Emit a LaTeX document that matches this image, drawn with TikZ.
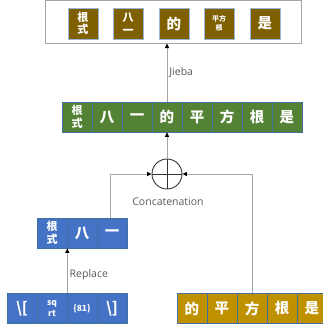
\documentclass[tikz,border=0pt]{standalone}
\usepackage{fontspec}
\setmainfont{Open Sans}
\newfontfamily\cjk{Noto Sans CJK SC}
\usetikzlibrary{arrows.meta}
\definecolor{cgreen}{HTML}{548235}
\definecolor{cblue}{HTML}{4472C4}
\definecolor{cgold}{HTML}{BF9000}
\definecolor{cbrown}{HTML}{7F6000}
\definecolor{cellline}{HTML}{41719C}
\definecolor{brownline}{HTML}{9DB3D6}
\definecolor{connline}{HTML}{A6A6A6}
\definecolor{labeltext}{HTML}{595959}
\begin{document}
\begin{tikzpicture}[x=1pt,y=-1pt,
  cell/.style={draw=cellline, line width=0.6pt, minimum width=30pt, minimum height=30pt,
    inner sep=0pt, text=white, align=center, font=\cjk\bfseries\fontsize{14.5}{14}\selectfont},
  twoline/.style={font=\cjk\bfseries\fontsize{11}{12.5}\selectfont},
  tiny/.style={font=\cjk\bfseries\fontsize{7}{9}\selectfont},
  latexbig/.style={font=\cjk\bfseries\fontsize{15}{14}\selectfont},
  latexsmall/.style={font=\cjk\bfseries\fontsize{8.5}{11}\selectfont},
  bcell/.style={draw=brownline, line width=0.6pt, fill=cbrown, minimum width=30pt, minimum height=31pt,
    inner sep=0pt, text=white, align=center, font=\cjk\bfseries\fontsize{14.5}{14}\selectfont},
  conn/.style={draw=connline, line width=0.8pt, -{Triangle[length=4.5pt,width=4pt,color=black]}},
  lbl/.style={text=labeltext, font=\fontsize{10.5}{12}\selectfont, inner sep=2pt}
]
\useasboundingbox (0,0) rectangle (323,333);

% top box
\node[draw=connline, line width=1pt, minimum width=256pt, minimum height=42.5pt, inner sep=0pt] (top) at (173.5,21.75) {};
\node[bcell, twoline] (t1) at (83,23.5) {根\\式};
\node[bcell, twoline] (t2) at (128,23.5) {八\\一};
\node[bcell] (t3) at (174,23.5) {的};
\node[bcell, tiny] (t4) at (219,23.5) {平方\\根};
\node[bcell] (t5) at (265,23.5) {是};

% green row
\node[cell, fill=cgreen, twoline] (g1) at (77,117) {根\\式};
\node[cell, fill=cgreen] (g2) at (107,117) {八};
\node[cell, fill=cgreen] (g3) at (137,117) {一};
\node[cell, fill=cgreen] (g4) at (167,117) {的};
\node[cell, fill=cgreen] (g5) at (197,117) {平};
\node[cell, fill=cgreen] (g6) at (227,117) {方};
\node[cell, fill=cgreen] (g7) at (257,117) {根};
\node[cell, fill=cgreen] (g8) at (287,117) {是};

% concatenation circle
\node[circle, draw=black!80, line width=0.9pt, minimum size=30pt, inner sep=0pt] (cat) at (167,174) {};
\draw[black!80, line width=0.9pt] (cat.north) -- (cat.south);
\draw[black!80, line width=0.9pt] (cat.west) -- (cat.east);
\node[lbl] (catlbl) at (168,202) {Concatenation};

% middle blue row
\node[cell, fill=cblue, twoline] (bm1) at (52,233) {根\\式};
\node[cell, fill=cblue] (bm2) at (82,233) {八};
\node[cell, fill=cblue] (bm3) at (112,233) {一};

% bottom blue row
\node[cell, fill=cblue, latexbig] (bb1) at (22,308.5) {\textbackslash[};
\node[cell, fill=cblue, latexsmall] (bb2) at (52,308.5) {sq\\rt};
\node[cell, fill=cblue, latexsmall] (bb3) at (82,308.5) {\{81\}};
\node[cell, fill=cblue, latexbig] (bb4) at (112,308.5) {\textbackslash]};

% gold row
\node[cell, fill=cgold] (y1) at (192,308.5) {的};
\node[cell, fill=cgold] (y2) at (222,308.5) {平};
\node[cell, fill=cgold] (y3) at (252,308.5) {方};
\node[cell, fill=cgold] (y4) at (282,308.5) {根};
\node[cell, fill=cgold] (y5) at (312,308.5) {是};

% connectors
\draw[conn] (bb2.north east) -- node[lbl, right, pos=0.4] {Replace} (bm1.south east);
\draw[conn] ([xshift=-2pt]bm3.north) |- (cat.west);
\draw[conn] (y3.north) |- (cat.east);
\draw[conn] (cat.north) -- (g4.south);
\draw[conn] (g4.north) -- node[lbl, right, pos=0.5] {Jieba} (g4.north |- top.south);
\end{tikzpicture}
\end{document}
